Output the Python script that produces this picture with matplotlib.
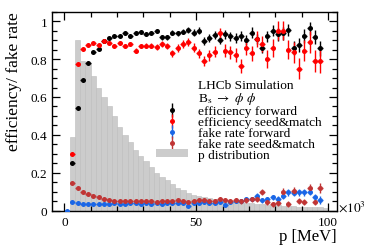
import numpy as np
import matplotlib
matplotlib.use("Agg")
import matplotlib.pyplot as plt
from matplotlib.lines import Line2D
from matplotlib.patches import Patch
from matplotlib.ticker import MultipleLocator, FuncFormatter

plt.rcParams['font.family'] = ['Liberation Serif', 'DejaVu Serif']
plt.rcParams['mathtext.fontset'] = 'stix'

nan = np.nan
# bin centres in units of 10^3 MeV
p_bins = [1, 3, 5, 7, 9, 11, 13, 15, 17, 19, 21, 23, 25, 27, 29, 31, 33, 35, 37, 39,
          41, 43, 45, 47, 49, 51, 53, 55, 57, 59, 61, 63, 65, 67, 69, 71, 73, 75, 77, 79,
          81, 83, 85, 87, 89, 91, 93, 95, 97, 99]

p_dist = [0.0, 0.387, 0.90, 0.79, 0.78, 0.71, 0.65, 0.60, 0.55, 0.50,
          0.44, 0.40, 0.36, 0.32, 0.29, 0.26, 0.23, 0.20, 0.18, 0.16,
          0.14, 0.12, 0.11, 0.095, 0.085, 0.075, 0.07, 0.065, 0.06, 0.055,
          0.05, 0.048, 0.045, 0.042, 0.04, 0.038, 0.035, 0.033, 0.03, 0.03,
          0.028, 0.026, 0.025, 0.023, 0.022, 0.02, 0.02, 0.018, 0.017, 0.016]

eff_fwd = [nan, 0.25, 0.54, 0.69, 0.78, 0.835, 0.855, 0.895, 0.91, 0.92,
           0.92, 0.935, 0.92, 0.935, 0.945, 0.93, 0.94, 0.95, 0.915, 0.915,
           0.94, 0.935, 0.945, 0.955, 0.94, 0.95, 0.895, 0.91, 0.925, 0.90,
           0.93, 0.92, 0.91, 0.923, 0.90, 0.94, 0.905, 0.86, 0.92, 0.95,
           0.93, 0.935, 0.953, 0.86, 0.875, 0.92, 0.962, 0.915, 0.857, nan]
eff_fwd_err = [nan, 0.006, 0.005, 0.004, 0.004, 0.004, 0.004, 0.005, 0.005, 0.006,
               0.006, 0.007, 0.007, 0.008, 0.008, 0.009, 0.010, 0.011, 0.012, 0.012,
               0.013, 0.014, 0.015, 0.016, 0.017, 0.018, 0.020, 0.020, 0.021, 0.022,
               0.023, 0.024, 0.025, 0.026, 0.026, 0.027, 0.028, 0.030, 0.030, 0.030,
               0.032, 0.033, 0.033, 0.036, 0.036, 0.037, 0.035, 0.038, 0.040, nan]

eff_sm = [nan, 0.30, 0.775, 0.853, 0.875, 0.883, 0.876, 0.895, 0.886, 0.87,
          0.885, 0.87, 0.88, 0.845, 0.87, 0.87, 0.87, 0.865, 0.88, 0.87,
          0.83, 0.86, 0.88, 0.89, 0.86, 0.83, 0.79, 0.82, 0.84, 0.935,
          0.845, 0.835, 0.82, 0.765, 0.86, 0.83, 0.905, 0.88, 0.80, 0.86,
          0.95, 0.95, 0.85, 0.835, 0.75, 0.845, 0.89, 0.79, 0.79, nan]
eff_sm_err = [nan, 0.008, 0.006, 0.005, 0.005, 0.005, 0.006, 0.006, 0.007, 0.008,
              0.008, 0.009, 0.010, 0.011, 0.012, 0.013, 0.014, 0.015, 0.016, 0.017,
              0.018, 0.020, 0.021, 0.022, 0.024, 0.025, 0.027, 0.028, 0.030, 0.030,
              0.032, 0.034, 0.036, 0.038, 0.040, 0.041, 0.042, 0.044, 0.046, 0.048,
              0.050, 0.050, 0.052, 0.054, 0.056, 0.057, 0.058, 0.060, 0.062, nan]

fake_fwd = [0.0, 0.047, 0.038, 0.036, 0.035, 0.036, 0.035, 0.037, 0.036, 0.038,
            0.037, 0.036, 0.039, 0.038, 0.036, 0.039, 0.037, 0.038, 0.035, 0.038,
            0.040, 0.042, 0.040, 0.027, 0.040, 0.042, 0.045, 0.040, 0.043, 0.048,
            0.028, 0.045, 0.050, 0.053, 0.060, 0.062, 0.078, 0.055, 0.060, 0.070,
            0.060, 0.080, 0.097, 0.095, 0.097, 0.097, 0.100, 0.070, 0.055, nan]
fake_fwd_err = [0.001, 0.002, 0.002, 0.002, 0.002, 0.002, 0.002, 0.002, 0.002, 0.003,
                0.003, 0.003, 0.003, 0.003, 0.004, 0.004, 0.004, 0.004, 0.005, 0.005,
                0.005, 0.006, 0.006, 0.006, 0.007, 0.007, 0.008, 0.008, 0.009, 0.009,
                0.010, 0.010, 0.011, 0.011, 0.012, 0.012, 0.013, 0.013, 0.014, 0.014,
                0.015, 0.016, 0.017, 0.017, 0.018, 0.018, 0.019, 0.019, 0.020, nan]

fake_sm = [nan, 0.146, 0.118, 0.100, 0.088, 0.079, 0.070, 0.062, 0.057, 0.053,
           0.052, 0.053, 0.050, 0.052, 0.049, 0.051, 0.049, 0.046, 0.050, 0.052,
           0.052, 0.055, 0.050, 0.048, 0.052, 0.058, 0.055, 0.050, 0.052, 0.060,
           0.055, 0.050, 0.056, 0.050, 0.055, 0.060, 0.060, 0.097, 0.044, 0.035,
           0.040, 0.100, 0.035, 0.106, 0.050, 0.045, 0.118, 0.045, 0.120, nan]
fake_sm_err = [nan, 0.003, 0.003, 0.003, 0.003, 0.003, 0.003, 0.003, 0.003, 0.003,
               0.003, 0.004, 0.004, 0.004, 0.004, 0.005, 0.005, 0.005, 0.006, 0.006,
               0.006, 0.007, 0.007, 0.008, 0.008, 0.009, 0.009, 0.010, 0.010, 0.011,
               0.011, 0.012, 0.012, 0.013, 0.013, 0.014, 0.014, 0.016, 0.014, 0.013,
               0.014, 0.018, 0.014, 0.020, 0.016, 0.016, 0.022, 0.016, 0.025, nan]

bin_half_width = 1.0

c_black = '#000000'
c_red = '#ff0000'
c_blue = '#1a66e6'
c_dred = '#c03535'
c_hist = '#cccccc'

fig = plt.figure(figsize=(3.74, 2.53), dpi=100)
ax = fig.add_axes([52 / 374, 41.3 / 253, 284.7 / 374, 199 / 253])

ax.bar(p_bins, p_dist, width=2 * bin_half_width, color=c_hist,
       edgecolor='#bdbdbd', linewidth=0.4, zorder=1)

x = np.array(p_bins, dtype=float)
series = [(eff_fwd, eff_fwd_err, c_black),
          (eff_sm, eff_sm_err, c_red),
          (fake_fwd, fake_fwd_err, c_blue),
          (fake_sm, fake_sm_err, c_dred)]
MS = 3.6
for vals, errs, col in series:
    ax.errorbar(x, vals, yerr=errs, xerr=bin_half_width, fmt='o', color=col,
                ms=MS, mew=0, elinewidth=1.0, capsize=1.2, capthick=1.0, zorder=3)

ax.set_xlim(-4.7, 103.3)
ax.set_ylim(0, 1.05)

ax.xaxis.set_major_locator(MultipleLocator(50))
ax.xaxis.set_minor_locator(MultipleLocator(10))
ax.yaxis.set_major_locator(MultipleLocator(0.2))
ax.yaxis.set_minor_locator(MultipleLocator(0.05))
ax.yaxis.set_major_formatter(FuncFormatter(lambda v, p: ('%g' % round(v, 2))))
ax.tick_params(which='both', direction='in', top=True, right=True, labelsize=9.5,
               width=0.9)
ax.tick_params(which='major', length=6)
ax.tick_params(which='minor', length=3.5)
ax.tick_params(axis='x', pad=4)
for s in ax.spines.values():
    s.set_linewidth(1.0)

ax.set_xlabel('p [MeV]', fontsize=12, ha='right')
ax.xaxis.set_label_coords(1.0, -0.085)
ax.set_ylabel('efficiency/ fake rate', fontsize=12.5, ha='right')
ax.yaxis.set_label_coords(-0.105, 1.0)

ax.text(1.004, 0.02, r'$\times10^{3}$', transform=ax.transAxes, ha='left',
        va='center', fontsize=9.5)

# legend
blank = Line2D([], [], linestyle='none', marker=None)
ekw = dict(fmt='o', ms=MS, mew=0, elinewidth=1.0, capsize=2, capthick=1.0)
h_fwd = ax.errorbar([nan], [nan], yerr=[nan], color=c_black, **ekw)
h_sm = ax.errorbar([nan], [nan], yerr=[nan], color=c_red, **ekw)
h_ffwd = ax.errorbar([nan], [nan], yerr=[nan], color=c_blue, **ekw)
h_fsm = ax.errorbar([nan], [nan], yerr=[nan], color=c_dred, **ekw)
h_hist = Patch(facecolor=c_hist, edgecolor='none')
handles = [blank, blank, h_fwd, h_sm, h_ffwd, h_fsm, h_hist]
labels = ['LHCb Simulation', r'B$_{\rm s}$ $\rightarrow$ $\phi$ $\phi$',
          'efficiency forward', 'efficiency seed&match', 'fake rate forward',
          'fake rate seed&match', 'p distribution']
leg = ax.legend(handles, labels, loc='upper left', bbox_to_anchor=(0.365, 0.66),
                frameon=False, fontsize=9.6, handlelength=2.4, handletextpad=0.75,
                labelspacing=-0.08, borderpad=0, borderaxespad=0, handleheight=0.5)

fig.savefig('out.png', dpi=100)
